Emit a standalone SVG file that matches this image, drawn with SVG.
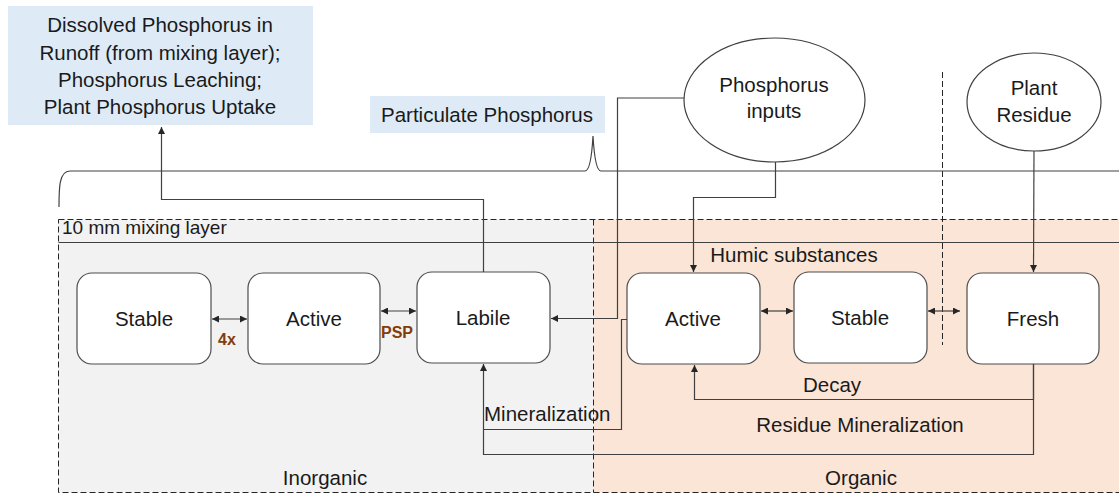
<svg xmlns="http://www.w3.org/2000/svg" width="1119" height="496" viewBox="0 0 1119 496">
<defs>
<marker id="ah" viewBox="0 0 10 10" refX="10" refY="5" markerWidth="7" markerHeight="7" markerUnits="userSpaceOnUse" orient="auto-start-reverse">
<path d="M0,0 L10,5 L0,10 z" fill="#262626"/>
</marker>
<style>
text{font-family:"Liberation Sans",Arial,sans-serif;font-size:20.5px;fill:#1a1a1a;}
.c{text-anchor:middle;}
.box{fill:#ffffff;stroke:#4d4d4d;stroke-width:1.2;}
.ell{fill:#ffffff;stroke:#404040;stroke-width:1.2;}
.lbl{fill:#DEEBF7;}
.ln{fill:none;stroke:#404040;stroke-width:1.2;}
.dash{fill:none;stroke:#262626;stroke-width:1;stroke-dasharray:6 3;}
.arr{marker-end:url(#ah);}
.bi{marker-start:url(#ah);marker-end:url(#ah);}
.br{font-weight:bold;font-size:16px;fill:#843C0C;}
</style>
</defs>

<g id="regions">
<rect x="58.5" y="219.5" width="535" height="273" fill="#F2F2F2"/>
<rect x="593.5" y="219.5" width="526" height="273" fill="#FBE5D6"/>
<rect x="58.5" y="219.5" width="1070" height="273" class="dash"/>
<line x1="593.5" y1="219.5" x2="593.5" y2="492.5" class="dash"/>
<line x1="58.5" y1="242.5" x2="1119" y2="242.5" stroke="#404040" stroke-width="1"/>
<text x="62" y="234" style="font-size:19px">10 mm mixing layer</text>
<text x="325" y="485" class="c">Inorganic</text>
<text x="861" y="485" class="c">Organic</text>
<text x="794" y="262" class="c">Humic substances</text>
<line x1="942.5" y1="72" x2="942.5" y2="345" class="dash"/>
</g>

<g id="brace">
<path d="M59,207 C59,188 59,171 70,171 L585,171 Q591,171 593,136 Q595,171 601,171 L1119,171" fill="none" stroke="#404040" stroke-width="1.2"/>
</g>

<g id="dissolved">
<rect x="8" y="6" width="305" height="119" class="lbl"/>
<text x="160" y="32" class="c">Dissolved Phosphorus in</text>
<text x="160" y="60" class="c">Runoff (from mixing layer);</text>
<text x="160" y="87" class="c">Phosphorus Leaching;</text>
<text x="160" y="114" class="c">Plant Phosphorus Uptake</text>
</g>

<g id="particulate">
<rect x="370" y="96" width="235" height="37" class="lbl"/>
<text x="487" y="122" class="c">Particulate Phosphorus</text>
</g>

<g id="phosphorus-inputs">
<ellipse cx="774.5" cy="100" rx="90.5" ry="62" class="ell"/>
<text x="774" y="92" class="c">Phosphorus</text>
<text x="774" y="118" class="c">inputs</text>
</g>

<g id="plant-residue">
<ellipse cx="1034" cy="102" rx="67" ry="49" class="ell"/>
<text x="1034" y="95" class="c">Plant</text>
<text x="1034" y="122" class="c">Residue</text>
</g>

<g id="inorg-stable">
<rect x="77" y="273" width="134" height="91" rx="15" class="box"/>
<text x="144" y="326" class="c">Stable</text>
</g>
<g id="inorg-active">
<rect x="248" y="273" width="132" height="91" rx="15" class="box"/>
<text x="314" y="326" class="c">Active</text>
</g>
<g id="labile">
<rect x="417" y="272" width="133" height="91" rx="15" class="box"/>
<text x="483" y="325" class="c">Labile</text>
</g>
<g id="org-active">
<rect x="627" y="273" width="133" height="91" rx="15" class="box"/>
<text x="693" y="326" class="c">Active</text>
</g>
<g id="org-stable">
<rect x="794" y="272" width="133" height="91" rx="15" class="box"/>
<text x="860" y="325" class="c">Stable</text>
</g>
<g id="fresh">
<rect x="967" y="273" width="132" height="91" rx="15" class="box"/>
<text x="1033" y="326" class="c">Fresh</text>
</g>

<g id="connectors">
<line x1="212" y1="319" x2="247" y2="319" class="ln bi"/>
<text x="227" y="345" class="c br">4x</text>
<line x1="381" y1="311" x2="416" y2="311" class="ln bi"/>
<text x="397" y="338" class="c br">PSP</text>
<line x1="761" y1="311" x2="793" y2="311" class="ln bi"/>
<line x1="928" y1="311" x2="960" y2="311" class="ln bi"/>

<polyline points="483.5,272 483.5,199.5 161.5,199.5 161.5,127" class="ln arr"/>
<polyline points="684,98 617.5,98 617.5,318.5 551,318.5" class="ln arr"/>
<polyline points="775.5,162 775.5,197.5 693.5,197.5 693.5,272" class="ln arr"/>
<polyline points="1034,151 1033.5,272" class="ln arr"/>
<polyline points="1033.5,364 1033.5,399.5 694.5,399.5 694.5,365" class="ln arr"/>
<polyline points="1033.5,364 1033.5,454.5 483.5,454.5 483.5,364" class="ln arr"/>
<polyline points="627,319.5 621.5,319.5 621.5,429.5 483.5,429.5" class="ln"/>
<text x="484" y="421">Mineralization</text>
<text x="832" y="392" class="c">Decay</text>
<text x="860" y="432" class="c">Residue Mineralization</text>
</g>
</svg>
